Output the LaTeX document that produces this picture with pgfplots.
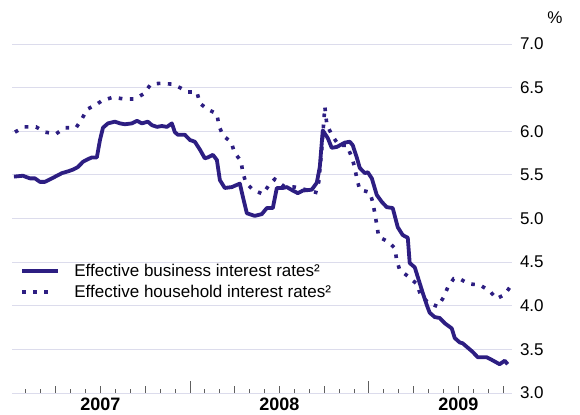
\documentclass[border=0pt]{standalone}
\usepackage{fontspec}
\setmainfont{Liberation Sans}
\usepackage{pgfplots}
\pgfplotsset{compat=1.18}
\definecolor{ink}{RGB}{45,30,130}
\definecolor{gridc}{RGB}{220,220,236}
\definecolor{tickc}{RGB}{95,95,95}
\pgfplotsset{
 legsolid/.style={legend image code/.code={\draw[##1] (0bp,0bp) -- (36bp,0bp);}},
 legdot/.style={legend image code/.code={\draw[##1] (0bp,0bp) -- (29bp,0bp);}},
}
\begin{document}
\begin{tikzpicture}
\begin{axis}[
 scale only axis, width=500bp, height=349bp,
 xmin=0.07, xmax=33.6, ymin=3, ymax=7,
 axis x line*=bottom, axis y line*=right,
 x axis line style={draw=gridc, line width=1bp, -},
 y axis line style={draw=none, -},
 ytick={3,3.5,4,4.5,5,5.5,6,6.5,7},
 yticklabels={3.0,3.5,4.0,4.5,5.0,5.5,6.0,6.5,7.0},
 ytick style={draw=none},
 ymajorgrids, major grid style={draw=gridc, line width=1bp},
 yticklabel style={font=\fontsize{17bp}{20bp}\selectfont, anchor=west, xshift=4.5bp},
 tick align=inside,
 xtick={12,24}, xticklabels={,,},
 xtick style={draw=tickc, line width=0.8bp},
 major tick length=12bp, minor tick length=4bp,
 minor xtick={1,2,4,5,7,8,10,11,13,14,16,17,19,20,22,23,25,26,28,29,31,32},
 extra x ticks={3,6,9,15,18,21,27,30,33},
 extra x tick labels={,2007,,,2008,,,2009,},
 extra x tick style={major tick length=7bp, xticklabel style={font=\bfseries\fontsize{18bp}{21bp}\selectfont, yshift=-1.5bp}},
 legend style={at={(axis cs:0.4,4.28)}, anchor=west, draw=none, fill=none,
   font=\fontsize{17bp}{20bp}\selectfont, row sep=3.5bp,
   /tikz/every odd column/.append style={column sep=12.5bp}},
 legend cell align=left,
]
\addplot[ink, line width=3.8bp, line join=round, legsolid] coordinates {
(0.20,5.48) (0.80,5.49) (1.27,5.46) (1.61,5.46) (1.94,5.42) (2.28,5.42) (2.75,5.46)
(3.08,5.49) (3.42,5.52) (3.82,5.54) (4.16,5.56) (4.49,5.59) (4.83,5.65) (5.16,5.68)
(5.43,5.70) (5.76,5.70) (5.97,5.90) (6.17,6.04) (6.50,6.09) (6.97,6.11) (7.31,6.09)
(7.64,6.08) (8.11,6.09) (8.45,6.12) (8.78,6.09) (9.18,6.11) (9.45,6.07) (9.79,6.05)
(10.12,6.06) (10.46,6.05) (10.79,6.09) (10.99,5.99) (11.19,5.96) (11.66,5.96) (12.00,5.90)
(12.33,5.88) (12.67,5.79) (13.00,5.69) (13.20,5.70) (13.54,5.73) (13.81,5.67) (14.01,5.44)
(14.34,5.35) (14.81,5.36) (15.35,5.40) (15.55,5.25) (15.82,5.06) (16.35,5.03) (16.82,5.05)
(17.16,5.12) (17.56,5.12) (17.83,5.35) (18.23,5.35) (18.50,5.36) (18.90,5.32) (19.24,5.29)
(19.57,5.32) (20.17,5.33) (20.51,5.41) (20.71,5.59) (20.91,6.01) (21.25,5.92) (21.51,5.81)
(21.85,5.82) (22.39,5.87) (22.72,5.88) (22.92,5.84) (23.19,5.70) (23.39,5.58) (23.73,5.52)
(23.93,5.53) (24.20,5.46) (24.53,5.27) (24.87,5.19) (25.20,5.13) (25.60,5.12) (25.94,4.90)
(26.27,4.81) (26.61,4.78) (26.74,4.49) (27.08,4.44) (27.28,4.33) (27.61,4.15) (27.88,4.01)
(28.08,3.92) (28.42,3.87) (28.75,3.86) (29.09,3.80) (29.56,3.74) (29.76,3.63) (30.09,3.58)
(30.29,3.57) (30.63,3.52) (30.97,3.47) (31.30,3.41) (31.90,3.41) (32.24,3.38) (32.77,3.33)
(33.11,3.37) (33.31,3.33)
};
\addlegendentry{Effective business interest rates²}
\addplot[ink, line width=3.6bp, dash pattern=on 3.6bp off 7.5bp, line cap=butt, legdot] coordinates {
(0.27,5.99) (0.87,6.05) (1.68,6.05) (2.28,5.99) (3.02,5.97) (3.62,6.04) (4.36,6.04)
(4.76,6.14) (5.09,6.25) (5.76,6.31) (6.10,6.35) (6.84,6.39) (7.57,6.37) (8.31,6.37)
(8.91,6.43) (9.38,6.54) (10.05,6.55) (10.79,6.54) (11.33,6.50) (11.86,6.45) (12.47,6.45)
(12.67,6.32) (13.20,6.25) (13.81,6.20) (13.94,6.07) (14.21,5.95) (14.75,5.88) (15.01,5.75)
(15.42,5.66) (15.55,5.53) (15.75,5.41) (16.22,5.33) (16.89,5.28) (17.29,5.38) (17.69,5.45)
(18.30,5.37) (19.03,5.36) (19.77,5.33) (20.44,5.30) (20.64,5.42) (20.84,5.79) (21.05,6.28)
(21.18,6.08) (21.51,5.96) (21.98,5.84) (22.52,5.84) (22.86,5.70) (23.06,5.58) (23.19,5.46)
(23.39,5.33) (24.06,5.30) (24.26,5.19) (24.40,5.06) (24.53,4.93) (24.66,4.79) (25.34,4.73)
(25.74,4.66) (25.87,4.52) (26.07,4.41) (26.68,4.33) (27.21,4.25) (27.48,4.12) (27.95,4.04)
(28.62,3.99) (29.02,4.10) (29.29,4.21) (29.69,4.31) (30.09,4.31) (30.70,4.25) (31.43,4.24)
(32.10,4.17) (32.57,4.08) (33.11,4.13) (33.45,4.21)
};
\addlegendentry{Effective household interest rates²}
\end{axis}
\node[font=\fontsize{17bp}{20bp}\selectfont] at ([xshift=43bp,yshift=26bp]current axis.north east) {\%};
\path ([xshift=-12bp,yshift=-22bp]current axis.south west) rectangle ++(580bp,415bp);
\end{tikzpicture}
\end{document}
